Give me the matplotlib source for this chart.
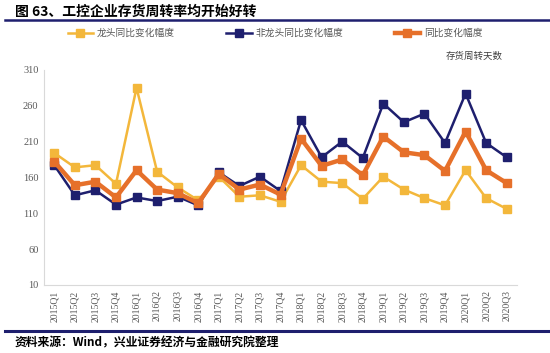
import matplotlib
matplotlib.use('Agg')
import matplotlib.pyplot as plt
from matplotlib.lines import Line2D

plt.rcParams['font.family'] = ['Noto Sans CJK SC', 'DejaVu Sans']

# 季度
quarters = ['2015Q1', '2015Q2', '2015Q3', '2015Q4',
            '2016Q1', '2016Q2', '2016Q3', '2016Q4',
            '2017Q1', '2017Q2', '2017Q3', '2017Q4',
            '2018Q1', '2018Q2', '2018Q3', '2018Q4',
            '2019Q1', '2019Q2', '2019Q3', '2019Q4',
            '2020Q1', '2020Q2', '2020Q3']

# 存货周转天数
leader = [194, 174, 177, 151, 285, 168, 146, 128, 161, 133, 135, 126,
          177, 154, 152, 130, 161, 143, 131, 121, 170, 131, 116]
non_leader = [177, 135, 142, 122, 132, 127, 133, 121, 167, 148, 161, 141,
              240, 188, 210, 187, 263, 237, 249, 208, 277, 208, 188]
overall = [182, 149, 154, 132, 170, 143, 138, 124, 165, 143, 150, 136,
           214, 176, 185, 163, 217, 195, 191, 169, 224, 170, 152]

yticks = [10, 60, 110, 160, 210, 260, 310]

c_yellow = '#F3B73B'
c_navy = '#1E1F6E'
c_orange = '#E6702A'
c_tick = '#595959'
serif = 'Liberation Serif'

fig = plt.figure(figsize=(5.5, 3.53), dpi=100)
fig.patch.set_facecolor('white')
ax = fig.add_axes([0.08, 0.193, 0.86, 0.609])

x = list(range(len(quarters)))
ax.plot(x, leader, '-s', color=c_yellow, linewidth=1.8, markersize=6, label='龙头同比变化幅度')
ax.plot(x, non_leader, '-s', color=c_navy, linewidth=1.8, markersize=6, label='非龙头同比变化幅度')
ax.plot(x, overall, '-s', color=c_orange, linewidth=3.2, markersize=6, label='同比变化幅度')

ax.set_xlim(-0.5, len(quarters) - 0.5)
ax.set_ylim(10, 310)
ax.set_yticks(yticks)
ax.set_yticklabels([str(v) for v in yticks], fontsize=7.5, color=c_tick, family=serif)
ax.set_xticks(x)
ax.set_xticklabels(quarters, rotation=90, fontsize=7, color=c_tick, family=serif)
ax.tick_params(length=0, pad=4)
for side in ['top', 'right']:
    ax.spines[side].set_visible(False)
for side in ['left', 'bottom']:
    ax.spines[side].set_color('#D9D9D9')
    ax.spines[side].set_linewidth(0.8)

# 图例
fig.legend(loc='center', bbox_to_anchor=(0.5, 1 - 33 / 353), ncol=3, frameon=False,
           fontsize=7, handlelength=2.6, columnspacing=5.3, handletextpad=0.4,
           labelcolor='#595959')

# 标题与分隔线
fig.text(15 / 550, 1 - 12 / 353, '图 63、工控企业存货周转率均开始好转', fontsize=10,
         fontweight='bold', va='center', ha='left', color='black')
fig.add_artist(Line2D([5 / 550, 1.0], [1 - 20 / 353, 1 - 20 / 353], color=c_navy, linewidth=1.8))
fig.text(503 / 550, 1 - 56 / 353, '存货周转天数', fontsize=6.8, ha='right', va='center', color='#404040')
fig.add_artist(Line2D([5 / 550, 1.0], [1 - 331 / 353, 1 - 331 / 353], color=c_navy, linewidth=2.2))
fig.text(15 / 550, 1 - 343 / 353, '资料来源：Wind，兴业证券经济与金融研究院整理', fontsize=8.5,
         fontweight='bold', va='center', ha='left', color='black')

fig.savefig('out.png', dpi=100)
